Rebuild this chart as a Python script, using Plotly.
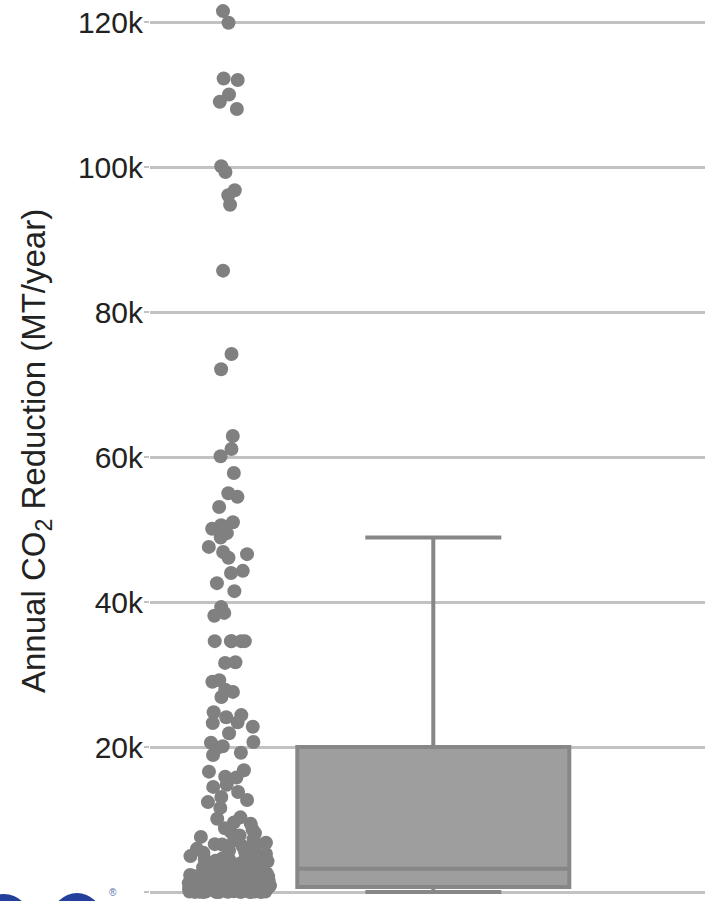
import plotly.graph_objects as go

# ---- data ----
high_outliers = [121500, 119900, 112200, 112000, 110000, 109000, 108000,
                 100100, 99300, 96800, 96100, 94800, 85700,
                 74200, 72100, 62900, 61100, 60100, 57800, 55000, 54500, 53100,
                 51000, 50600, 50100, 49500]
upper_band = [48900, 47600, 46900, 46600, 46100, 44300, 44000, 42600, 41500,
              39300, 38500, 38100, 34600, 34600, 34600, 34600, 34600,
              31700, 31600, 29200, 29000, 27900, 27600, 26900, 24800, 24400,
              24100, 23400, 23300, 22800, 21900, 20700, 20600, 20100]
mid_band = [19900, 19200, 18900, 16800, 16600, 15900, 15800, 14800, 14500,
            13800, 13100, 12700, 12400, 11600, 10300,
            10100, 9600, 9400, 8800, 8600, 8300, 8100, 7800, 7600, 7300,
            7100, 6800, 6600, 6550, 6300, 6100, 5950, 5700, 5650, 5400,
            5250, 5100, 4950, 4850, 4700, 4650, 4500, 4400, 4300, 4250,
            4100, 4000, 3950, 3850, 3800, 3700, 3650, 3600, 3500, 3450,
            3400, 3350, 3300, 3280, 3250]
low_band = [3150, 3100, 3050, 2950, 2900, 2800, 2750, 2700, 2600, 2550,
            2500, 2400, 2350, 2300, 2200, 2150, 2100, 2050, 1950, 1900,
            1850, 1800, 1750, 1700, 1650, 1600, 1550, 1500, 1450, 1420,
            1380, 1350, 1300, 1250, 1220, 1200, 1150, 1120, 1100, 1050,
            1020, 1000, 980, 950, 930, 900, 880, 860, 840, 820,
            810, 800, 790, 780, 770, 765, 760, 755, 752, 750]
near_zero = [650, 640, 620, 600, 580, 560, 550, 530, 510, 500,
             480, 460, 450, 430, 410, 400, 380, 360, 350, 330,
             310, 300, 290, 270, 250, 240, 230, 210, 200, 190,
             180, 170, 160, 150, 140, 130, 120, 110, 100, 95,
             90, 85, 80, 75, 70, 65, 60, 55, 50, 45,
             40, 35, 30, 25, 20, 15, 12, 10, 8, 5]

values = high_outliers + upper_band + mid_band + low_band + near_zero

tick_vals = [0, 20000, 40000, 60000, 80000, 100000, 120000]
tick_text = ["0", "20k", "40k", "60k", "80k", "100k", "120k"]

W, H = 705, 901
L = 150

def px_x(p):
    return (p - L) / (W - L)

def px_y(p):
    return 1 - p / H

fig = go.Figure()
fig.add_trace(go.Box(
    y=values,
    x0=0,
    width=1,
    boxpoints="all",
    jitter=0.3,
    pointpos=-1.5,
    marker=dict(color="#808080", size=14, line=dict(width=0)),
    line=dict(color="#878787", width=4),
    fillcolor="#9e9e9e",
    whiskerwidth=0.5,
    showlegend=False,
    hoverinfo="y",
))

grid_col = "#c2c2c2"
fig.update_layout(
    width=W, height=H, autosize=False,
    margin=dict(l=L, r=0, t=0, b=0),
    paper_bgcolor="white", plot_bgcolor="white",
    font=dict(family="Liberation Sans, Arial, sans-serif", color="#222222"),
    xaxis=dict(range=[-1.0415, 0.9989], showgrid=False, zeroline=False,
               showticklabels=False, showline=False, ticks=""),
    yaxis=dict(range=[-1241, 123034], tickvals=tick_vals, ticktext=tick_text,
               showgrid=True, gridcolor=grid_col, gridwidth=2.5,
               zeroline=False, showline=False,
               ticks="outside", ticklen=5, tickwidth=2, tickcolor=grid_col,
               ticklabelstandoff=-5,
               tickfont=dict(size=30, color="#222222")),
    annotations=[
        dict(text="Annual CO<sub>2</sub> Reduction (MT/year)",
             xref="paper", yref="paper", x=px_x(36), y=px_y(451),
             xanchor="center", yanchor="middle", textangle=-90,
             showarrow=False, font=dict(size=33, color="#222222")),
        dict(text="®", xref="paper", yref="paper", x=px_x(113), y=px_y(892),
             xanchor="center", yanchor="middle", showarrow=False,
             font=dict(size=10, color="#5570b0")),
    ],
    shapes=[
        dict(type="circle", xref="paper", yref="paper",
             x0=px_x(-22), x1=px_x(30), y0=px_y(894), y1=px_y(946),
             fillcolor="#22409c", line=dict(width=0), layer="above"),
        dict(type="circle", xref="paper", yref="paper",
             x0=px_x(52), x1=px_x(102), y0=px_y(893), y1=px_y(943),
             fillcolor="#22409c", line=dict(width=0), layer="above"),
    ],
)

fig.write_html("out.html",
               config={"displayModeBar": False},
               post_script="document.body.style.margin='0px';"
                           "document.body.style.overflow='hidden';")
